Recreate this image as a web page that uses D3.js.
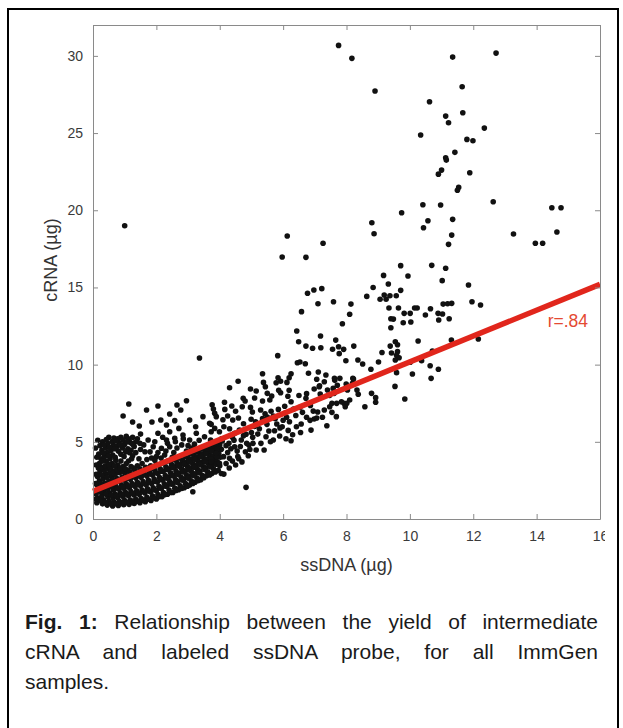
<!DOCTYPE html>
<html>
<head>
<meta charset="utf-8">
<script src="https://cdn.jsdelivr.net/npm/d3@7"></script>
<style>
  body { margin: 0; background: #fff; font-family: "Liberation Sans", Arial, sans-serif; }
  #frame { position: absolute; left: 7px; top: 8px; width: 608px; height: 780px;
           border: 2.5px solid #000; border-bottom: none; }
  #chart { position: absolute; left: 0; top: 0; }
  .cap { position: absolute; left: 25px; width: 573px; font-size: 21px; color: #1a1a1a;
         text-align: justify; text-align-last: justify; white-space: nowrap; line-height: 20px; }
  .cap.last { text-align: left; text-align-last: left; }
  .axis text { font-family: "Liberation Sans", Arial, sans-serif; font-size: 14px; fill: #3a3a3a; }
  .axis path, .axis line { stroke: #8a8a8a; }
</style>
</head>
<body>
<div id="frame"></div>
<div id="chart"></div>
<div class="cap" style="top:612px"><b>Fig. 1:</b> Relationship between the yield of intermediate</div>
<div class="cap" style="top:642px">cRNA and labeled ssDNA probe, for all ImmGen</div>
<div class="cap last" style="top:672px">samples.</div>
<script>
// tick labels
var xTicks = [0, 2, 4, 6, 8, 10, 12, 14, 16];
var yTicks = [0, 5, 10, 15, 20, 25, 30];

// fitted line and its label
var fitLine = [[0, 1.8], [16, 15.2]];
var rLabel = "r=.84";

// solid band under / around the fit line (ssDNA, cRNA)
var denseBand = [
  [0.12,1.05],[0.15,1.35],[0.1,1.62],[0.18,1.9],[0.13,2.2],[0.2,2.48],[0.14,2.75],[0.22,3.05],[0.17,3.3],
  [0.3,0.98],[0.33,1.25],[0.28,1.5],[0.35,1.78],[0.3,2.05],[0.38,2.32],[0.32,2.6],[0.4,2.9],[0.36,3.15],
  [0.45,0.9],[0.5,1.15],[0.47,1.42],[0.52,1.7],[0.46,1.95],[0.55,2.2],[0.5,2.45],[0.58,2.75],[0.53,3.0],
  [0.62,0.85],[0.66,1.1],[0.63,1.35],[0.7,1.62],[0.65,1.88],[0.72,2.12],[0.68,2.4],[0.75,2.62],[0.7,2.9],
  [0.8,0.88],[0.83,1.15],[0.78,1.4],[0.86,1.68],[0.82,1.92],[0.9,2.2],[0.85,2.45],[0.92,2.7],
  [0.97,0.92],[1.0,1.2],[0.95,1.45],[1.03,1.72],[0.98,1.98],[1.06,2.25],[1.01,2.5],[1.08,2.78],
  [1.14,0.95],[1.18,1.22],[1.12,1.5],[1.2,1.78],[1.15,2.02],[1.23,2.3],[1.18,2.58],[1.25,2.85],
  [1.3,1.0],[1.35,1.28],[1.3,1.55],[1.38,1.82],[1.33,2.1],[1.4,2.38],[1.35,2.65],[1.42,2.92],
  [1.48,1.05],[1.52,1.32],[1.46,1.6],[1.55,1.88],[1.5,2.15],[1.58,2.42],[1.52,2.7],[1.6,3.0],
  [1.65,1.12],[1.7,1.4],[1.64,1.68],[1.72,1.95],[1.68,2.22],[1.75,2.5],[1.7,2.78],[1.78,3.05],
  [1.83,1.2],[1.88,1.48],[1.82,1.75],[1.9,2.02],[1.85,2.3],[1.93,2.58],[1.88,2.85],[1.95,3.15],
  [2.0,1.3],[2.05,1.58],[2.0,1.85],[2.08,2.12],[2.03,2.4],[2.1,2.68],[2.05,2.95],[2.12,3.25],
  [2.18,1.45],[2.22,1.72],[2.16,2.0],[2.25,2.28],[2.2,2.55],[2.28,2.82],[2.22,3.1],[2.3,3.38],
  [2.35,1.6],[2.4,1.88],[2.34,2.15],[2.42,2.42],[2.38,2.7],[2.45,2.98],[2.4,3.25],[2.48,3.52],
  [2.52,1.72],[2.58,2.0],[2.52,2.28],[2.6,2.55],[2.55,2.82],[2.62,3.1],[2.58,3.38],[2.65,3.65],
  [2.7,1.9],[2.75,2.15],[2.68,2.42],[2.78,2.7],[2.72,2.98],[2.8,3.25],[2.75,3.52],[2.82,3.8],
  [2.88,2.02],[2.92,2.3],[2.86,2.58],[2.95,2.85],[2.9,3.12],[2.98,3.4],[2.92,3.68],[3.0,3.95],
  [3.05,2.2],[3.1,2.48],[3.04,2.75],[3.12,3.02],[3.08,3.3],[3.15,3.58],[3.1,3.85],[3.18,4.12],
  [3.22,2.38],[3.28,2.65],[3.22,2.92],[3.3,3.2],[3.25,3.48],[3.32,3.75],[3.28,4.02],[3.35,4.3],
  [3.4,2.55],[3.45,2.82],[3.38,3.1],[3.48,3.38],[3.42,3.65],[3.5,3.92],[3.45,4.2],[3.52,4.48],
  [3.58,2.8],[3.62,3.05],[3.56,3.32],[3.65,3.58],[3.6,3.85],[3.68,4.12],[3.62,4.4],[3.7,4.65],
  [3.75,2.95],[3.8,3.25],[3.74,3.52],[3.83,3.78],[3.78,4.05],[3.85,4.32],[3.8,4.6],[3.88,4.85],
  [3.95,3.15],[4.0,3.45],[3.92,3.72],[4.02,4.0],[3.97,4.25],[4.05,4.52],[4.0,4.8],[4.08,5.05]
];

// in-between points of the same band
var bandFill = [
  [0.22,1.2],[0.24,1.75],[0.25,2.3],[0.27,2.85],[0.26,3.35],
  [0.4,1.05],[0.42,1.6],[0.41,2.15],[0.44,2.7],[0.45,3.25],
  [0.57,1.0],[0.58,1.55],[0.6,2.05],[0.62,2.55],[0.63,3.1],
  [0.73,0.98],[0.74,1.5],[0.77,2.0],[0.8,2.55],[0.84,3.0],
  [0.9,1.05],[0.9,1.55],[0.94,2.08],[0.96,2.6],[1.0,3.0],
  [1.07,1.08],[1.08,1.6],[1.1,2.12],[1.12,2.65],[1.16,3.05],
  [1.24,1.12],[1.25,1.65],[1.27,2.2],[1.3,2.75],[1.32,3.15],
  [1.4,1.15],[1.42,1.7],[1.44,2.25],[1.46,2.8],[1.48,3.25],
  [1.57,1.22],[1.6,1.75],[1.6,2.3],[1.63,2.88],[1.66,3.35],
  [1.75,1.28],[1.77,1.82],[1.78,2.38],[1.8,2.92],[1.82,3.45],
  [1.92,1.38],[1.94,1.9],[1.96,2.45],[1.98,3.0],[2.0,3.55],
  [2.1,1.45],[2.12,2.0],[2.14,2.55],[2.16,3.1],[2.18,3.62],
  [2.27,1.58],[2.3,2.12],[2.32,2.65],[2.34,3.2],[2.36,3.75],
  [2.45,1.72],[2.47,2.25],[2.5,2.8],[2.52,3.32],[2.54,3.85],
  [2.62,1.85],[2.65,2.38],[2.67,2.9],[2.7,3.42],[2.72,3.95],
  [2.8,1.98],[2.82,2.52],[2.85,3.05],[2.88,3.55],[2.9,4.05],
  [2.98,2.12],[3.0,2.65],[3.02,3.18],[3.04,3.7],[3.06,4.22],
  [3.15,2.3],[3.18,2.82],[3.2,3.35],[3.22,3.85],[3.25,4.35],
  [3.32,2.48],[3.35,3.0],[3.38,3.52],[3.4,4.05],[3.42,4.55],
  [3.5,2.68],[3.53,3.2],[3.55,3.7],[3.57,4.22],[3.6,4.7],
  [3.68,2.85],[3.7,3.38],[3.72,3.88],[3.75,4.4],[3.77,4.9],
  [3.86,3.05],[3.88,3.55],[3.9,4.05],[3.92,4.55],[3.95,5.05],
  [1.4,3.45],[1.45,3.9],[1.35,4.3],[1.5,4.5],[1.6,4.8],[1.4,5.2],[1.85,3.95],[1.8,4.35],
  [2.05,4.3],[2.15,3.95],[2.3,4.4],[2.35,4.9],[2.5,4.0],[2.65,4.6],[2.6,5.0],[2.95,4.4],
  [3.0,4.75],[3.2,4.85],[2.85,5.2],[2.2,5.3],[1.95,5.0],[1.25,5.3],[1.05,5.35],[0.88,5.3],
  [0.5,5.3],[0.15,5.1],[0.12,4.0],[0.1,2.9],[0.08,2.3],[0.1,1.3]
];

// cluster above the band at low ssDNA
var upperLobe = [
  [0.2,3.6],[0.25,3.9],[0.18,4.2],[0.28,4.45],[0.22,4.75],[0.3,5.0],
  [0.38,3.45],[0.42,3.75],[0.36,4.05],[0.45,4.3],[0.4,4.6],[0.47,4.88],[0.42,5.15],
  [0.55,3.3],[0.6,3.6],[0.54,3.9],[0.62,4.15],[0.57,4.45],[0.65,4.75],[0.6,5.02],[0.66,5.25],
  [0.75,3.2],[0.78,3.5],[0.72,3.8],[0.8,4.4],[0.76,4.7],[0.82,4.95],[0.78,5.2],
  [0.92,3.1],[0.95,3.4],[0.98,4.05],[0.93,4.6],[1.0,4.85],[0.95,5.12],
  [1.1,3.15],[1.12,3.75],[1.15,4.3],[1.1,4.55],[1.18,4.95],[1.12,5.2],
  [1.28,3.3],[1.25,4.1],[1.3,4.7],[1.35,5.0],[0.1,3.5],[0.08,4.6],
  [0.3,3.75],[0.33,4.25],[0.35,4.8],[0.5,3.55],[0.5,4.1],[0.52,4.65],[0.68,3.45],[0.7,4.0],
  [0.7,4.55],[0.72,5.05],[0.85,3.3],[0.88,3.75],[0.88,4.2],[0.87,4.8],[1.02,3.25],[1.05,3.6],
  [1.03,4.35],[1.08,5.0],[1.2,3.4],[1.22,3.9],[1.2,4.45],[1.25,4.85]
];

// scattered points, low ssDNA
var lowCloud = [
  [1.13,7.45],[1.69,7.06],[2.05,7.32],[2.65,7.38],[2.95,7.66],[0.95,6.67],[1.25,6.28],[1.46,6.02],
  [1.86,6.28],[2.14,6.41],[2.42,6.8],[2.77,7.06],[2.32,6.09],[2.58,6.37],[2.71,5.87],[3.05,6.41],
  [3.24,5.98],[3.47,6.63],[3.68,6.2],[3.84,6.85],[2.05,5.55],[2.42,5.65],[2.32,5.12],[2.58,5.23],
  [2.84,5.44],[3.05,5.12],[3.26,5.55],[3.52,5.33],[3.73,5.65],[1.74,5.12],[1.48,4.9],[1.9,4.68],
  [1.64,4.36],[2.16,4.58],[2.42,4.68],[2.0,4.04],[2.26,4.15],[1.55,3.6],[1.7,3.85],[1.95,3.8],
  [2.55,4.3],[2.8,4.8],[3.1,4.6],[3.35,5.1],[3.15,1.77],[1.5,5.5]
];

// scattered points, middle ssDNA
var midCloud = [
  [6.43,12.18],[6.49,11.48],[5.83,10.58],[6.45,10.12],[5.35,9.41],[6.25,9.41],[6.19,9.15],[5.84,9.15],
  [4.58,8.92],[5.38,8.85],[5.44,8.57],[5.78,8.83],[5.92,8.92],[6.12,8.85],[4.31,8.5],[4.97,8.42],
  [5.15,8.29],[5.5,8.14],[5.64,7.97],[5.86,8.34],[5.92,8.18],[6.19,8.34],[6.15,7.95],[4.74,7.82],
  [4.8,7.64],[5.1,7.84],[5.35,7.64],[5.58,7.71],[4.15,7.56],[3.76,7.4],[3.8,7.12],[4.16,7.1],
  [4.38,7.32],[4.5,6.98],[4.71,7.27],[4.97,7.23],[5.03,6.93],[5.29,7.06],[5.43,6.82],[5.62,6.98],
  [5.69,6.67],[6.05,7.3],[6.05,6.85],[6.11,6.59],[6.33,7.12],[3.89,6.63],[4.1,6.43],[4.25,6.67],
  [4.41,6.41],[4.59,6.54],[4.75,6.17],[4.99,6.46],[5.13,6.3],[5.49,6.13],[5.25,5.85],[5.8,6.15],
  [5.73,5.72],[5.97,5.98],[6.16,5.74],[6.3,5.46],[6.42,5.98],[3.73,6.13],[3.84,5.87],[3.99,5.65],
  [4.13,5.98],[4.31,5.85],[4.47,5.55],[4.62,5.76],[4.83,5.49],[5.04,5.29],[5.46,5.33],[5.69,5.12],
  [5.89,5.38],[6.09,5.2],[6.25,5.07],[3.71,5.12],[3.89,4.9],[4.06,5.2],[4.29,4.9],[4.47,4.68],
  [4.68,5.12],[4.92,4.79],[5.15,4.47],[5.4,4.47],[4.81,4.36],[3.89,4.26],[4.12,4.04],[4.31,3.93],
  [4.57,4.04],[3.73,3.71],[3.99,3.61],[4.13,2.91],[4.83,2.05],
  [4.2,3.6],[4.25,4.3],[4.35,4.55],[4.4,3.75],[4.45,5.1],[4.55,4.4],[4.6,3.9],[4.65,4.7],
  [4.75,5.4],[4.85,4.9],[4.9,4.1],[5.0,5.6],[5.05,4.9],[5.2,5.5],[5.3,4.9],[5.35,6.5],
  [5.55,5.7],[5.6,5.0],[5.75,6.5],[5.9,5.9],[6.0,6.4],[6.2,6.3],[6.4,6.7],[6.55,5.6],
  [4.2,4.75],[4.4,5.3],[5.1,6.0],[5.5,6.6],[5.85,7.1],[6.25,7.6],[6.5,8.0],[4.05,2.95],
  [4.3,3.3],[4.5,3.5],[4.7,3.7],[4.95,4.5],
  [7.35,9.33],[7.06,9.05],[7.3,8.89],[7.15,8.63],[7.63,8.98],[6.74,8.12],[6.72,7.82],[6.98,8.42],
  [7.14,8.57],[7.17,8.1],[7.4,8.36],[7.61,8.14],[6.53,7.23],[6.61,6.91],[6.86,7.36],[6.95,6.99],
  [7.09,6.93],[7.3,7.06],[7.47,7.27],[7.54,6.91],[6.74,6.59],[6.98,6.48],[7.38,6.04],[6.57,6.15],
  [6.85,6.39],[6.88,5.76],[7.06,6.54],[7.24,6.59],
  [7.99,8.74],[8.22,9.07],[8.19,8.79],[7.58,8.46],[7.71,8.66],[8.03,8.36],[8.33,8.36],[8.37,8.08],
  [7.47,8.01],[7.54,7.49],[7.69,7.49],[7.84,7.6],[7.92,7.49],[8.01,7.49],[8.1,7.71],[7.96,7.27],
  [8.58,7.27],[8.79,8.14],[8.92,7.86],[8.92,7.56],[7.68,6.63],[9.53,8.59],[9.84,7.77]
];

// scattered points, high ssDNA / high cRNA
var highCloud = [
  [7.75,30.68],[8.17,29.84],[11.35,29.92],[12.72,30.18],[8.9,27.72],[11.65,28.0],[10.62,27.03],
  [11.67,26.32],[11.13,26.1],[11.22,25.67],[12.35,25.32],[10.34,24.87],[11.8,24.59],[11.99,24.5],
  [11.42,23.75],[11.13,23.4],[11.15,23.25],[11.0,22.6],[10.9,22.34],[11.89,22.43],[11.54,21.48],
  [11.5,21.3],[12.63,20.55],[10.41,20.36],[10.97,20.34],[14.48,20.16],[14.77,20.16],[9.74,19.84],
  [8.8,19.19],[11.35,19.41],[10.57,19.32],[10.43,18.87],[8.87,18.48],[11.32,18.39],[13.27,18.46],
  [14.64,18.59],[13.96,17.86],[14.19,17.86],[11.22,17.79],[7.26,17.86],[6.72,16.95],[9.71,16.41],
  [10.69,16.43],[11.13,16.24],[9.17,15.78],[9.94,15.74],[11.02,15.44],[9.32,15.22],[11.85,15.16],
  [8.84,15.0],[6.77,14.62],[6.97,14.83],[7.22,14.92],[6.58,13.43],[8.64,14.42],[9.06,14.23],
  [9.19,14.51],[9.25,14.23],[9.37,14.46],[9.57,14.46],[9.71,14.81],[7.59,14.07],[7.1,13.94],
  [8.14,13.92],[9.34,13.67],[9.64,13.67],[10.15,13.67],[10.23,13.67],[10.65,13.62],[11.05,13.92],
  [11.19,13.94],[11.32,13.97],[11.96,14.07],[12.23,13.86],[8.1,13.26],[9.82,13.32],[10.01,13.32],
  [10.49,13.21],[10.89,13.32],[11.03,13.28],[7.87,12.65],[9.4,12.97],[9.48,12.95],[9.79,12.71],
  [10.03,12.76],[10.91,12.89],[11.24,12.97],[9.4,12.39],[7.18,11.85],[7.66,11.59],[6.72,11.2],
  [6.93,11.06],[7.19,11.09],[7.56,11.0],[7.75,11.16],[7.91,10.99],[7.77,10.71],[8.23,11.2],
  [9.54,11.48],[9.61,11.29],[10.26,11.53],[9.38,11.2],[9.42,10.75],[9.12,10.79],[9.61,10.84],
  [10.71,10.88],[11.31,11.59],[12.16,11.66],[7.98,10.25],[8.36,10.3],[8.51,10.04],[9.01,10.17],
  [8.77,9.7],[9.58,10.6],[9.66,10.45],[9.54,10.3],[10.01,10.15],[10.37,10.25],[10.64,9.93],
  [10.9,9.7],[6.53,10.17],[6.7,10.06],[6.8,9.44],[7.11,9.52],[9.58,9.48],[10.08,9.39],[10.67,9.11],
  [7.62,9.11],[7.79,9.11],[8.2,9.11]
];

// isolated points
var outliers = [[1.0,19.0],[3.36,10.43],[6.13,18.33],[5.97,16.97]];

var W = 623, H = 728;
var svg = d3.select("#chart").append("svg").attr("width", W).attr("height", H);

// the figure image is cropped just right of the plot box
svg.append("defs").append("clipPath").attr("id", "crop")
  .append("rect").attr("x", 0).attr("y", 0).attr("width", 605).attr("height", 600);
var g = svg.append("g").attr("clip-path", "url(#crop)");

var x = d3.scaleLinear().domain([0, 16]).range([93, 600]);
var y = d3.scaleLinear().domain([0, 32]).range([519, 25]);

// points
var allPts = denseBand.concat(bandFill, upperLobe, lowCloud, midCloud, highCloud, outliers);
g.append("g").selectAll("circle")
  .data(allPts)
  .enter().append("circle")
    .attr("cx", function(d) { return x(d[0]); })
    .attr("cy", function(d) { return y(d[1]); })
    .attr("r", 2.8)
    .attr("fill", "#111");

// fit line
g.append("line")
  .attr("x1", x(fitLine[0][0])).attr("y1", y(fitLine[0][1]))
  .attr("x2", x(fitLine[1][0])).attr("y2", y(fitLine[1][1]))
  .attr("stroke", "#e1261c").attr("stroke-width", 5.5);

g.append("text")
  .attr("x", 588).attr("y", 327)
  .attr("text-anchor", "end")
  .attr("font-size", 17.5)
  .attr("fill", "#e44a32")
  .text(rLabel);

// box axes, ticks pointing in
g.append("g").attr("class", "axis").attr("transform", "translate(0,519)")
  .call(d3.axisBottom(x).tickValues(xTicks).tickSize(-5).tickSizeOuter(0).tickPadding(12));
g.append("g").attr("class", "axis").attr("transform", "translate(93,0)")
  .call(d3.axisLeft(y).tickValues(yTicks).tickSize(-5).tickSizeOuter(0).tickPadding(10));
g.append("g").attr("class", "axis").attr("transform", "translate(0,25)")
  .call(d3.axisTop(x).tickValues(xTicks).tickSize(-5).tickSizeOuter(0).tickFormat(""));
g.append("g").attr("class", "axis").attr("transform", "translate(600,0)")
  .call(d3.axisRight(y).tickValues(yTicks).tickSize(-5).tickSizeOuter(0).tickFormat(""));

// axis titles
g.append("text")
  .attr("x", x(8)).attr("y", 571)
  .attr("text-anchor", "middle").attr("font-size", 18).attr("fill", "#333")
  .text("ssDNA (µg)");
g.append("text")
  .attr("transform", "translate(57,260) rotate(-90)")
  .attr("text-anchor", "middle").attr("font-size", 18).attr("fill", "#333")
  .text("cRNA (µg)");
</script>
</body>
</html>
